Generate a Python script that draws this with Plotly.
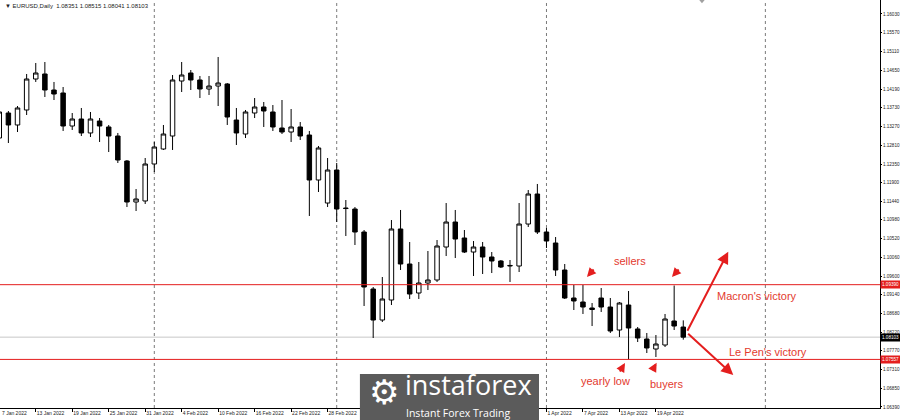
import pandas as pd
import plotly.graph_objects as go

# EURUSD daily bars, 7 Jan 2022 - 22 Apr 2022
dates = pd.bdate_range("2022-01-07", "2022-04-22")

opens = [1.12988, 1.13601, 1.13307, 1.13675, 1.14435, 1.14558, 1.14165, 1.14092, 1.13282, 1.13454,
         1.13111, 1.13405, 1.13258, 1.13037, 1.12424, 1.11418, 1.11443, 1.12350, 1.12718, 1.13037,
         1.14386, 1.14582, 1.14411, 1.14190, 1.14263, 1.14313, 1.13429, 1.13086, 1.13601, 1.13748,
         1.13626, 1.13233, 1.13135, 1.13258, 1.13061, 1.11958, 1.11393, 1.12203, 1.11271, 1.11246,
         1.10682, 1.09284, 1.08523, 1.09014, 1.10756, 1.09897, 1.09186, 1.09431, 1.09505, 1.10314,
         1.10927, 1.10535, 1.10191, 1.10314, 1.10069, 1.09971, 1.09848, 1.09848, 1.10878, 1.11614,
         1.10682, 1.10412, 1.09750, 1.09063, 1.08965, 1.08818, 1.09063, 1.08842, 1.08278, 1.08891,
         1.08303, 1.08057, 1.07812, 1.07910, 1.08499, 1.08351]
highs = [1.13773, 1.13650, 1.13773, 1.14558, 1.14828, 1.14852, 1.14362, 1.14239, 1.13601, 1.13724,
         1.13626, 1.13478, 1.13307, 1.13111, 1.12448, 1.11737, 1.12497, 1.12890, 1.13307, 1.14533,
         1.14852, 1.14656, 1.14509, 1.14509, 1.14975, 1.14337, 1.13724, 1.13675, 1.13969, 1.13871,
         1.13797, 1.13920, 1.13699, 1.13380, 1.13160, 1.12792, 1.12497, 1.12375, 1.11467, 1.11295,
         1.10731, 1.09333, 1.09578, 1.10976, 1.11222, 1.10437, 1.09946, 1.10216, 1.10486, 1.11393,
         1.11222, 1.10731, 1.10461, 1.10437, 1.10191, 1.09995, 1.09995, 1.11393, 1.11712, 1.11860,
         1.10780, 1.10559, 1.09897, 1.09382, 1.09382, 1.08940, 1.09308, 1.09063, 1.08965, 1.09235,
         1.08352, 1.08205, 1.08155, 1.08671, 1.09370, 1.08515]
lows = [1.12865, 1.12865, 1.13135, 1.13552, 1.14362, 1.13994, 1.13920, 1.13160, 1.13184, 1.13037,
        1.13012, 1.12890, 1.12644, 1.12375, 1.11295, 1.11197, 1.11369, 1.12154, 1.12694, 1.12694,
        1.14116, 1.14165, 1.13969, 1.14043, 1.13773, 1.13307, 1.12816, 1.12988, 1.13478, 1.13258,
        1.13160, 1.13086, 1.12890, 1.12939, 1.11075, 1.11663, 1.11295, 1.10927, 1.10584, 1.10363,
        1.08867, 1.08082, 1.08474, 1.08891, 1.09750, 1.09039, 1.09039, 1.09259, 1.09456, 1.10093,
        1.10044, 1.10167, 1.09603, 1.09652, 1.09676, 1.09799, 1.09456, 1.09701, 1.10805, 1.10633,
        1.10290, 1.09603, 1.09039, 1.08769, 1.08671, 1.08376, 1.08720, 1.08205, 1.08106, 1.07557,
        1.07984, 1.07714, 1.07616, 1.07861, 1.08278, 1.08041]
closes = [1.13626, 1.13307, 1.13724, 1.14435, 1.14582, 1.14165, 1.14067, 1.13282, 1.13454, 1.13111,
          1.13454, 1.13282, 1.13037, 1.12448, 1.11418, 1.11492, 1.12350, 1.12767, 1.13086, 1.14411,
          1.14533, 1.14411, 1.14190, 1.14263, 1.14337, 1.13503, 1.13111, 1.13626, 1.13748, 1.13650,
          1.13258, 1.13135, 1.13258, 1.13037, 1.11958, 1.12743, 1.12203, 1.11246, 1.11258, 1.10682,
          1.09333, 1.08523, 1.09039, 1.10756, 1.09897, 1.09161, 1.09431, 1.09505, 1.10339, 1.10927,
          1.10510, 1.10191, 1.10314, 1.10069, 1.09971, 1.09824, 1.09861, 1.10878, 1.11614, 1.10682,
          1.10461, 1.09750, 1.09063, 1.08990, 1.08842, 1.08781, 1.08842, 1.08254, 1.08940, 1.08327,
          1.08082, 1.07837, 1.07935, 1.08548, 1.08376, 1.08103]

price_ticks = [1.16030, 1.15570, 1.15110, 1.14650, 1.14190, 1.13730, 1.13270, 1.12810, 1.12350,
               1.11900, 1.11440, 1.10980, 1.10520, 1.10060, 1.09600, 1.09140, 1.08680, 1.08220,
               1.07770, 1.07310, 1.06850, 1.06390]

resistance = 1.09390
yearly_low = 1.07557
last_price = closes[-1]

# month separators (bar index), last one sits in the empty future area
separators = [17, 37, 60, 84]

bars = list(range(len(dates)))
# date labels every 4 bars; the March ones sit under the watermark
date_ticks = [i for i in bars[::4] if not 40 <= i <= 56]
date_labels = [f"{dates[i].day} {dates[i]:%b %Y}" for i in date_ticks]

RED = "#e41e1e"
AXFONT = dict(family="Liberation Sans Narrow, Liberation Sans, Arial", size=5, color="#222")
YFONT = dict(AXFONT, size=4.6)

fig = go.Figure()

fig.add_trace(go.Candlestick(
    x=bars, open=opens, high=highs, low=lows, close=closes,
    increasing=dict(line=dict(color="black", width=1), fillcolor="white"),
    decreasing=dict(line=dict(color="black", width=1), fillcolor="black"),
    whiskerwidth=0,
    showlegend=False,
    hoverinfo="skip",
))

shapes = []
for s in separators:
    shapes.append(dict(type="line", xref="x", yref="paper", x0=s, x1=s, y0=0, y1=1,
                       line=dict(color="#7a7a7a", width=1, dash="dot"), layer="below"))
shapes.append(dict(type="line", xref="paper", yref="y", x0=0, x1=1, y0=last_price, y1=last_price,
                   line=dict(color="#c8c8c8", width=1), layer="below"))
for lvl in (resistance, yearly_low):
    shapes.append(dict(type="line", xref="paper", yref="y", x0=0, x1=1, y0=lvl, y1=lvl,
                       line=dict(color=RED, width=1), layer="above"))
# chart shift marker at the top
shapes.append(dict(type="path", xref="x", yref="paper",
                   path="M 76.75 1 L 77.35 1 L 77.05 0.992 Z",
                   fillcolor="#a0a0a0", line=dict(width=0)))
# watermark box
shapes.append(dict(type="rect", xref="paper", yref="paper", x0=0.409, x1=0.6125, y0=-0.04, y1=0.0833,
                   fillcolor="#5b5b5b", line=dict(width=0), layer="above"))

ann = []
small = dict(YFONT, color="white")
for lvl, bg in ((resistance, RED), (yearly_low, RED), (last_price, "black")):
    ann.append(dict(xref="paper", yref="y", x=1.0, y=lvl, xanchor="left", yanchor="middle",
                    text=f"{lvl:.5f}", showarrow=False, bgcolor=bg, font=small, borderpad=1))

# first date label, its tick is just left of the visible window
ann.append(dict(xref="paper", yref="paper", x=0, y=-0.0125, xanchor="left", yanchor="middle",
                text=f"{dates[0].day} {dates[0]:%b %Y}", showarrow=False, font=AXFONT))

ann.append(dict(xref="paper", yref="paper", x=0.003, y=0.997, xanchor="left", yanchor="top",
                text="▼ EURUSD,Daily  1.08351 1.08515 1.08041 1.08103", showarrow=False,
                font=dict(family="Liberation Sans, Arial", size=6, color="#222")))

label_font = dict(family="Liberation Sans, Arial", size=11, color="#e33a2e")
for txt, xi, yp in (("sellers", 69.2, 1.09978), ("Macron's victory", 83.05, 1.09112),
                    ("Le Pen's victory", 84.3, 1.07731), ("yearly low", 66.5, 1.07027),
                    ("buyers", 73.2, 1.06954)):
    ann.append(dict(xref="x", yref="y", x=xi, y=yp, text=txt, showarrow=False, font=label_font,
                    xanchor="center", yanchor="middle"))

# arrows: (head x, head y, tail x, tail y, head size)
for hx, hy, tx, ty, hs in ((79.93, 1.10199, 75.37, 1.08222, 1.2),
                           (80.48, 1.07174, 75.37, 1.08222, 1.2),
                           (64.44, 1.09578, 65.32, 1.09799, 0.9),
                           (73.76, 1.09578, 74.64, 1.09799, 0.9),
                           (68.61, 1.07469, 67.95, 1.07223, 0.9),
                           (72.08, 1.07476, 71.53, 1.07255, 0.9)):
    ann.append(dict(xref="x", yref="y", axref="x", ayref="y", x=hx, y=hy, ax=tx, ay=ty,
                    text="", showarrow=True, arrowhead=2, arrowsize=hs, arrowwidth=2,
                    arrowcolor=RED, standoff=0))

# watermark text
wm = dict(showarrow=False, xref="paper", yref="paper", xanchor="center", yanchor="middle")
ann.append(dict(wm, x=0.4364, y=0.039, text="⚙",
                font=dict(family="DejaVu Sans", size=34, color="white")))
ann.append(dict(wm, x=0.5324, y=0.058, text="instaforex",
                font=dict(family="Open Sans", size=27, color="white")))
ann.append(dict(wm, x=0.5199, y=-0.012, text="Instant Forex Trading",
                font=dict(family="Open Sans", size=10.5, color="white")))

fig.update_layout(
    width=900, height=420,
    margin=dict(l=0, r=20, t=0, b=12),
    paper_bgcolor="white", plot_bgcolor="white",
    shapes=shapes, annotations=ann,
    xaxis=dict(
        range=[0.08, 96.57], rangeslider=dict(visible=False),
        showgrid=False, zeroline=False, showline=True, linecolor="black", linewidth=1,
        ticks="outside", ticklen=3, tickcolor="black", tickangle=0,
        tickvals=date_ticks, ticktext=date_labels, ticklabelposition="outside right",
        tickfont=AXFONT, automargin=False,
    ),
    yaxis=dict(
        range=[1.06365, 1.16373], side="right",
        showgrid=False, zeroline=False, showline=True, linecolor="black", linewidth=1,
        ticks="outside", ticklen=1, tickcolor="black",
        tickvals=price_ticks, ticktext=[f"{v:.5f}" for v in price_ticks],
        tickfont=YFONT, automargin=False,
    ),
)

fig.write_html("out.html", config={"displayModeBar": False},
               post_script="document.body.style.margin='0px';")
